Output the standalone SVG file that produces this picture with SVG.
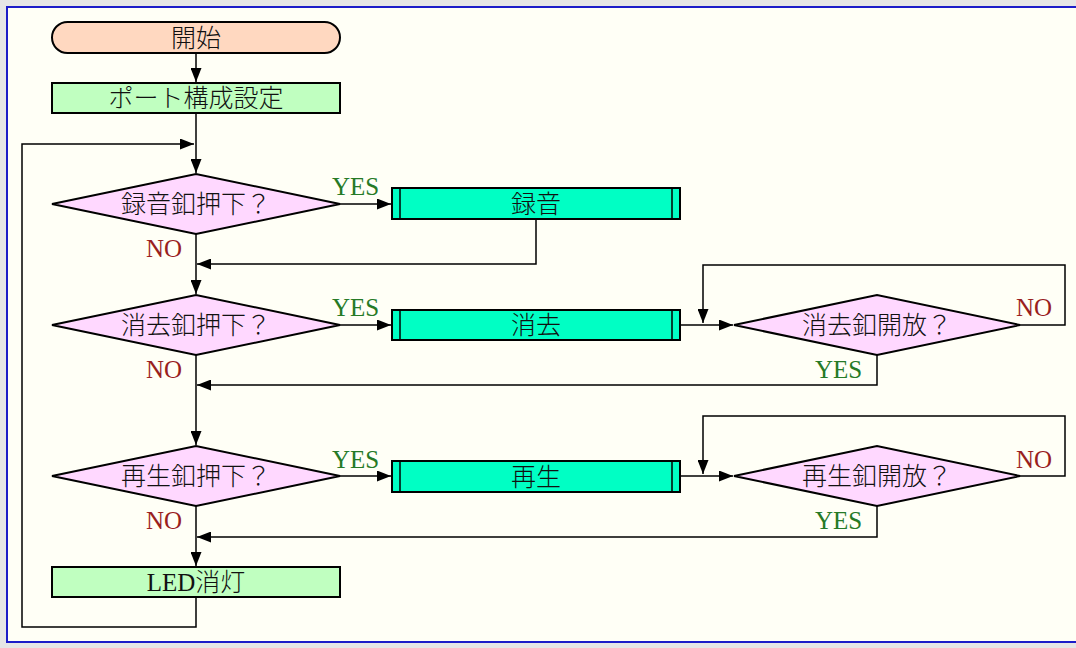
<svg xmlns="http://www.w3.org/2000/svg" width="1076" height="648" viewBox="0 0 1076 648">
  <defs>
    <marker id="arr" viewBox="0 0 14 11" refX="14" refY="5.5" markerWidth="14" markerHeight="11" markerUnits="userSpaceOnUse" orient="auto">
      <path d="M0,0 L14,5.5 L0,11 Z" fill="#000"/>
    </marker>
    <style>
      .frame { fill: #fffff6; stroke: #1c1cc8; stroke-width: 2; }
      .term { fill: #ffd8c0; stroke: #000; stroke-width: 2; }
      .proc { fill: #c0ffc0; stroke: #000; stroke-width: 2; }
      .sub { fill: #00ffc4; stroke: #000; stroke-width: 2; }
      .bar { stroke: #000; stroke-width: 1.5; fill: none; }
      .dec { fill: #ffd8ff; stroke: #000; stroke-width: 2; }
      .link { fill: none; stroke: #000; stroke-width: 1.5; }
      .arrow { marker-end: url(#arr); }
      text { font-family: "Liberation Serif", "Noto Sans CJK JP", serif; }
      .lbl { font-size: 25px; font-weight: 300; fill: #111; text-anchor: middle; }
      .yes { font-size: 25px; fill: #267a26; }
      .no { font-size: 25px; fill: #9a1f1f; }
    </style>
  </defs>

  <!-- page background and frame -->
  <rect x="0" y="0" width="1076" height="648" fill="#e6e6e6"/>
  <rect class="frame" x="7" y="7" width="1080" height="635"/>

  <!-- connectors -->
  <g id="connectors">
    <line class="link arrow" x1="196" y1="53" x2="196" y2="82"/>
    <line class="link arrow" x1="196" y1="113" x2="196" y2="173"/>
    <!-- record -->
    <line class="link arrow" x1="340" y1="204" x2="391" y2="204"/>
    <polyline class="link arrow" points="536,219 536,264 197,264"/>
    <line class="link arrow" x1="196" y1="234" x2="196" y2="294"/>
    <!-- erase -->
    <line class="link arrow" x1="340" y1="325" x2="391" y2="325"/>
    <line class="link arrow" x1="680" y1="325" x2="733" y2="325"/>
    <polyline class="link arrow" points="1020,325 1065,325 1065,265 703,265 703,323"/>
    <polyline class="link arrow" points="877,355 877,385 197,385"/>
    <line class="link arrow" x1="196" y1="355" x2="196" y2="445"/>
    <!-- play -->
    <line class="link arrow" x1="340" y1="476" x2="391" y2="476"/>
    <line class="link arrow" x1="680" y1="476" x2="733" y2="476"/>
    <polyline class="link arrow" points="1020,476 1065,476 1065,416 703,416 703,474"/>
    <polyline class="link arrow" points="877,506 877,537 197,537"/>
    <line class="link arrow" x1="196" y1="506" x2="196" y2="566"/>
    <!-- loop back -->
    <polyline class="link arrow" points="196,597 196,627 22,627 22,144 194,144"/>
  </g>

  <!-- branch labels -->
  <g id="branch-labels">
    <text class="yes" x="332" y="195">YES</text>
    <text class="no" x="146" y="257">NO</text>
    <text class="yes" x="332" y="316">YES</text>
    <text class="no" x="146" y="378">NO</text>
    <text class="no" x="1016" y="316">NO</text>
    <text class="yes" x="815" y="378">YES</text>
    <text class="yes" x="332" y="468">YES</text>
    <text class="no" x="146" y="529">NO</text>
    <text class="no" x="1016" y="468">NO</text>
    <text class="yes" x="815" y="529">YES</text>
  </g>

  <g id="start">
    <rect class="term" x="52" y="22" width="288" height="31" rx="15.5" ry="15.5"/>
    <text class="lbl" x="196" y="47">開始</text>
  </g>

  <g id="port-setup">
    <rect class="proc" x="52" y="83" width="288" height="30"/>
    <text class="lbl" x="196" y="107">ポート構成設定</text>
  </g>

  <g id="rec-pressed">
    <polygon class="dec" points="52,204 196,174 340,204 196,234"/>
    <text class="lbl" x="196" y="213">録音釦押下？</text>
  </g>

  <g id="record">
    <rect class="sub" x="392" y="188" width="288" height="31"/>
    <line class="bar" x1="400" y1="188" x2="400" y2="219"/>
    <line class="bar" x1="672" y1="188" x2="672" y2="219"/>
    <text class="lbl" x="536" y="213">録音</text>
  </g>

  <g id="erase-pressed">
    <polygon class="dec" points="52,325 196,295 340,325 196,355"/>
    <text class="lbl" x="196" y="334">消去釦押下？</text>
  </g>

  <g id="erase">
    <rect class="sub" x="392" y="310" width="288" height="30"/>
    <line class="bar" x1="400" y1="310" x2="400" y2="340"/>
    <line class="bar" x1="672" y1="310" x2="672" y2="340"/>
    <text class="lbl" x="536" y="334">消去</text>
  </g>

  <g id="erase-released">
    <polygon class="dec" points="734,325 877,295 1020,325 877,355"/>
    <text class="lbl" x="877" y="334">消去釦開放？</text>
  </g>

  <g id="play-pressed">
    <polygon class="dec" points="52,476 196,446 340,476 196,506"/>
    <text class="lbl" x="196" y="485">再生釦押下？</text>
  </g>

  <g id="play">
    <rect class="sub" x="392" y="461" width="288" height="31"/>
    <line class="bar" x1="400" y1="461" x2="400" y2="492"/>
    <line class="bar" x1="672" y1="461" x2="672" y2="492"/>
    <text class="lbl" x="536" y="486">再生</text>
  </g>

  <g id="play-released">
    <polygon class="dec" points="734,476 877,446 1020,476 877,506"/>
    <text class="lbl" x="877" y="485">再生釦開放？</text>
  </g>

  <g id="led-off">
    <rect class="proc" x="52" y="567" width="288" height="30"/>
    <text class="lbl" x="196" y="591">LED消灯</text>
  </g>
</svg>
